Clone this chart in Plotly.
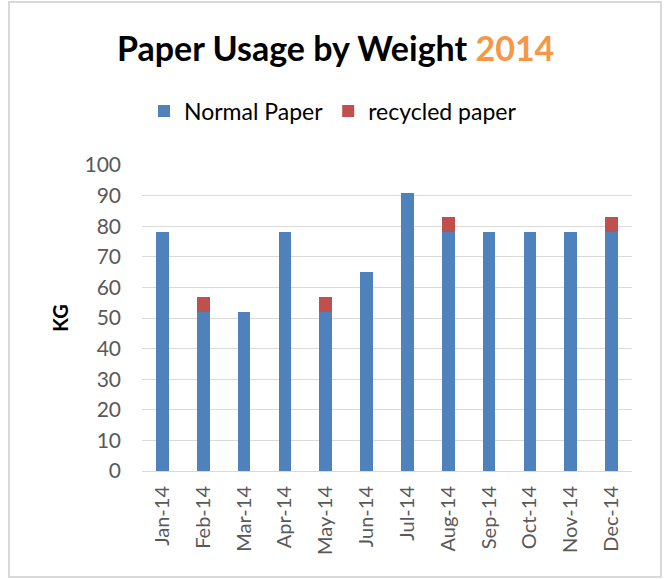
import plotly.graph_objects as go

# Monthly paper usage in kilograms
months = ["Jan-14", "Feb-14", "Mar-14", "Apr-14", "May-14", "Jun-14",
          "Jul-14", "Aug-14", "Sep-14", "Oct-14", "Nov-14", "Dec-14"]
normal_paper = [78, 52, 52, 78, 52, 65, 91, 78, 78, 78, 78, 78]
recycled_paper = [0, 5, 0, 0, 5, 0, 0, 5, 0, 0, 0, 5]
y_ticks = [0, 10, 20, 30, 40, 50, 60, 70, 80, 90, 100]

FONT = "Lato"
BLUE = "#4F81BD"
RED = "#C0504D"
ORANGE = "#F79646"
GRID = "#D9D9D9"
TICK_TXT = "#595959"

fig = go.Figure()
fig.add_trace(go.Bar(x=months, y=normal_paper, name="Normal Paper",
                     marker=dict(color=BLUE, line=dict(width=0))))
fig.add_trace(go.Bar(x=months, y=recycled_paper, name="recycled paper",
                     marker=dict(color=RED, line=dict(width=0))))

fig.update_layout(
    width=665, height=579,
    margin=dict(l=142, r=33, t=165, b=108),
    barmode="stack",
    bargap=0.69,
    paper_bgcolor="white",
    plot_bgcolor="white",
    font=dict(family=FONT, color=TICK_TXT),
    showlegend=True,
    legend=dict(orientation="h", x=(333 - 142) / 490, xanchor="center",
                y=(471 - 111) / 306, yanchor="middle",
                font=dict(size=23, color="#000000"), itemwidth=30,
                traceorder="normal"),
    xaxis=dict(
        tickangle=-90, tickfont=dict(size=20, color=TICK_TXT),
        showline=True, linecolor=GRID, linewidth=1,
        ticks="", ticklabelstandoff=6,
    ),
    yaxis=dict(
        range=[0, 100], tickvals=y_ticks,
        tickfont=dict(size=21, color=TICK_TXT),
        showgrid=True, gridcolor=GRID, gridwidth=1,
        zeroline=False, ticks="", ticklabelstandoff=20,
        title=dict(text="<b>KG</b>", font=dict(size=20, color="#000000"), standoff=10),
    ),
    annotations=[
        dict(text="<b>Paper Usage by Weight <span style='color:%s'>2014</span></b>" % ORANGE,
             xref="paper", yref="paper", x=(335 - 142) / 490, y=(471 - 47) / 306,
             xanchor="center", yanchor="middle", showarrow=False,
             font=dict(size=34, color="#000000", family=FONT)),
    ],
    shapes=[
        dict(type="rect", xref="paper", yref="paper",
             x0=(9 - 142) / 490, x1=(661 - 142) / 490,
             y0=(471 - 577) / 306, y1=(471 - 2) / 306,
             line=dict(color=GRID, width=2), fillcolor="rgba(0,0,0,0)", layer="below"),
    ],
)

fig.write_html("out.html")
